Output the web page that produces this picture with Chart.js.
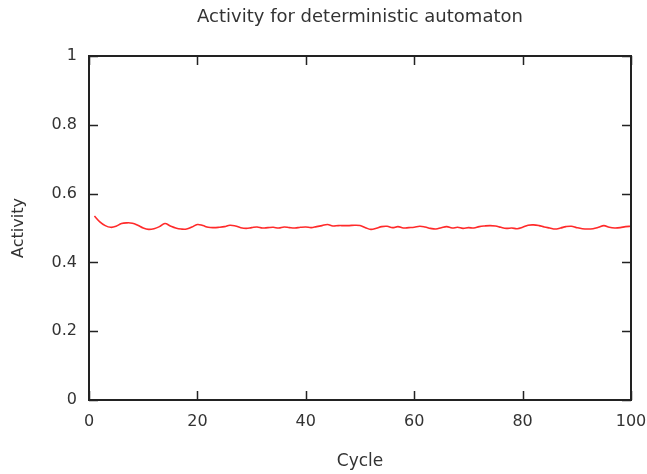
<!DOCTYPE html>
<html>
<head>
<meta charset="utf-8">
<script src="https://cdn.jsdelivr.net/npm/chart.js@4.4.0/dist/chart.umd.min.js"></script>
<style>
  html, body { margin: 0; padding: 0; background: #fff; }
  #wrap { width: 647px; height: 474px; }
</style>
</head>
<body>
<div id="wrap"><canvas id="activityChart" width="647" height="474"></canvas></div>
<script>
// activity per cycle
const cycles = [];
for (let i = 1; i <= 100; i++) cycles.push(i);
const activity = [
  0.535, 0.518, 0.507, 0.502, 0.505, 0.513, 0.515, 0.514, 0.508, 0.500,
  0.496, 0.498, 0.504, 0.513, 0.506, 0.500, 0.497, 0.497, 0.503, 0.510,
  0.507, 0.502, 0.501, 0.502, 0.504, 0.508, 0.506, 0.501, 0.499, 0.501,
  0.503, 0.500, 0.501, 0.502, 0.500, 0.503, 0.501, 0.500, 0.502, 0.503,
  0.501, 0.504, 0.507, 0.510, 0.506, 0.507, 0.507, 0.507, 0.508, 0.507,
  0.501, 0.496, 0.499, 0.504, 0.505, 0.501, 0.504, 0.500, 0.501, 0.502,
  0.505, 0.503, 0.499, 0.497, 0.501, 0.504, 0.500, 0.502, 0.499, 0.501,
  0.500, 0.504, 0.506, 0.507, 0.506, 0.502, 0.499, 0.500, 0.498, 0.502,
  0.508, 0.509, 0.507, 0.503, 0.500, 0.497, 0.500, 0.504, 0.505, 0.501,
  0.498, 0.497, 0.498, 0.502, 0.507, 0.502, 0.500, 0.501, 0.504, 0.505
];
const xTicks = [0, 20, 40, 60, 80, 100];
const yTicks = [0, 0.2, 0.4, 0.6, 0.8, 1];

const FONT = "'DejaVu Sans', sans-serif";
const TEXT = '#333333';

// gnuplot style frame with inward ticks on all four sides
const framePlugin = {
  id: 'frame',
  afterDraw(chart) {
    const { ctx, chartArea: a, scales } = chart;
    const len = 9;
    ctx.save();
    ctx.strokeStyle = '#222222';
    ctx.lineWidth = 1.5;
    ctx.beginPath();
    xTicks.forEach(v => {
      const px = Math.round(scales.x.getPixelForValue(v)) + 0.5;
      ctx.moveTo(px, a.bottom); ctx.lineTo(px, a.bottom - len);
      ctx.moveTo(px, a.top); ctx.lineTo(px, a.top + len);
    });
    yTicks.forEach(v => {
      const py = Math.round(scales.y.getPixelForValue(v)) + 0.5;
      ctx.moveTo(a.left, py); ctx.lineTo(a.left + len, py);
      ctx.moveTo(a.right, py); ctx.lineTo(a.right - len, py);
    });
    ctx.stroke();
    ctx.lineWidth = 2;
    ctx.strokeRect(a.left, a.top, a.right - a.left, a.bottom - a.top);
    ctx.restore();
  }
};

new Chart(document.getElementById('activityChart').getContext('2d'), {
  type: 'line',
  data: {
    datasets: [{
      data: cycles.map((c, i) => ({ x: c, y: activity[i] })),
      borderColor: '#ff2a2a',
      borderWidth: 1.6,
      pointRadius: 0,
      tension: 0.4,
      fill: false
    }]
  },
  options: {
    responsive: false,
    animation: false,
    devicePixelRatio: 1,
    layout: { padding: { left: 0, right: 16, top: 0, bottom: 0 } },
    plugins: {
      legend: { display: false },
      tooltip: { enabled: false },
      title: {
        display: true,
        fullSize: false,
        text: 'Activity for deterministic automaton',
        color: TEXT,
        font: { family: FONT, size: 18, weight: 'normal', lineHeight: 1.2 },
        padding: { top: 7, bottom: 27.4 }
      }
    },
    scales: {
      x: {
        type: 'linear',
        min: 0,
        max: 100,
        afterFit: s => { s.height = 74; s.paddingRight = 0; },
        afterBuildTicks: s => { s.ticks = xTicks.map(v => ({ value: v })); },
        grid: { display: false, drawTicks: false },
        border: { display: false },
        ticks: { color: TEXT, padding: 12, maxRotation: 0, font: { family: FONT, size: 16 } },
        title: {
          display: true, text: 'Cycle', color: TEXT,
          font: { family: FONT, size: 17, lineHeight: 1.2 },
          padding: { top: 0, bottom: 2 }
        }
      },
      y: {
        min: 0,
        max: 1,
        afterFit: s => { s.width = 89; },
        afterBuildTicks: s => { s.ticks = yTicks.map(v => ({ value: v })); },
        grid: { display: false, drawTicks: false },
        border: { display: false },
        ticks: {
          color: TEXT, padding: 12, font: { family: FONT, size: 16 },
          callback: v => String(v)
        },
        title: {
          display: true, text: 'Activity', color: TEXT,
          font: { family: FONT, size: 16, lineHeight: 1.2 },
          padding: { top: 9, bottom: 0 }
        }
      }
    }
  },
  plugins: [framePlugin]
});
</script>
</body>
</html>
